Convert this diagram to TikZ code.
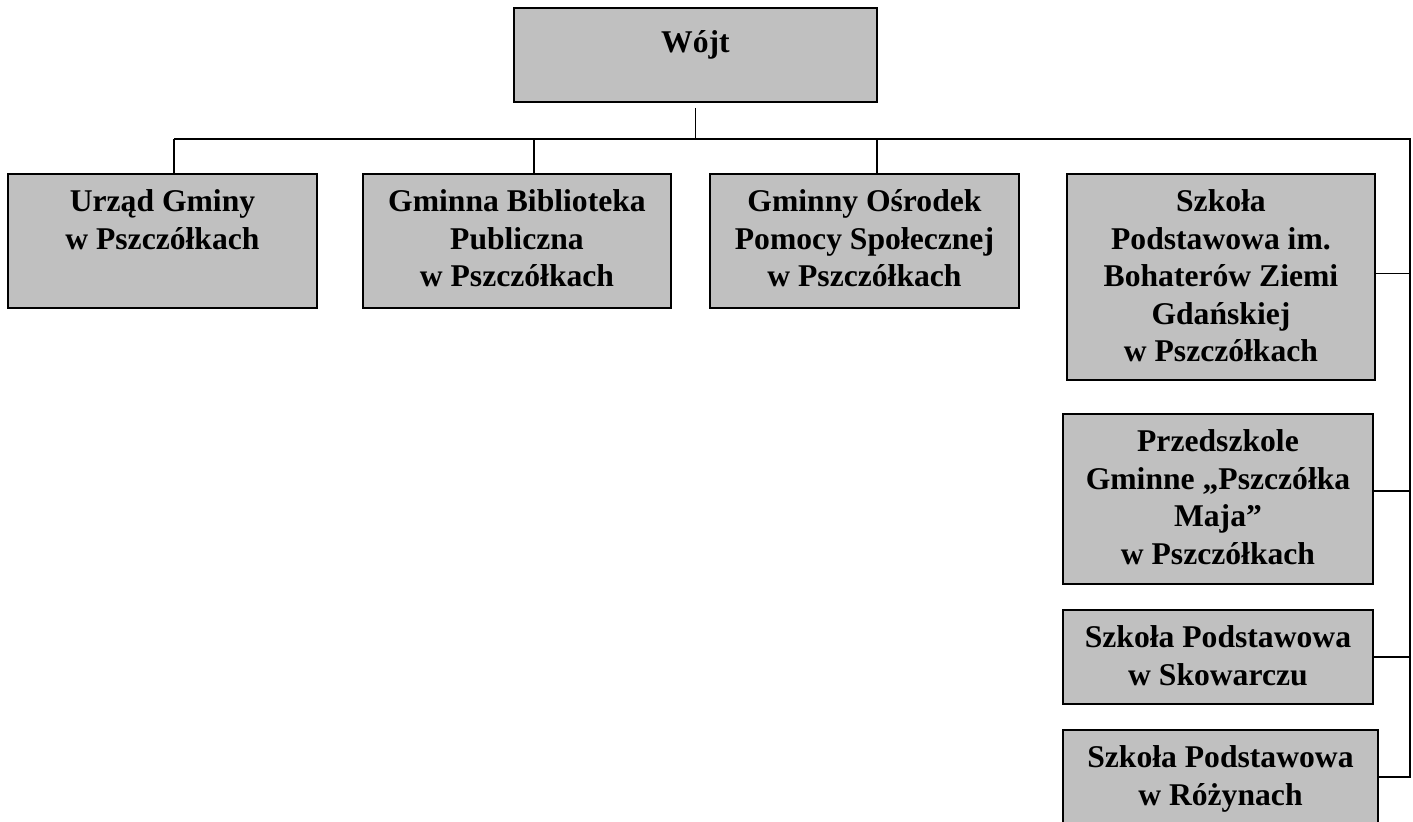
\documentclass[tikz,border=0pt]{standalone}
\usepackage{fontspec}
\setmainfont{Liberation Serif}
\definecolor{unitgrey}{RGB}{192,192,192}

\begin{document}
\begin{tikzpicture}[
   unit/.style={draw, line width=1.1pt, fill=unitgrey, anchor=north west, inner sep=0pt},
   unittext/.style={anchor=north, align=center, inner sep=0pt,
      font=\bfseries\fontsize{18pt}{21.3pt}\selectfont,
      execute at begin node={\rule{0pt}{17pt}}},
   link/.style={line width=0.6pt}]
   \useasboundingbox (0,0) rectangle (28.26,-16.42);

   % boxes
   \node[unit, minimum width=7.26cm, minimum height=1.88cm] (wojt) at (10.26,-0.14) {};
   \node[unit, minimum width=6.18cm, minimum height=2.68cm] (urzad) at (0.14,-3.46) {};
   \node[unit, minimum width=6.16cm, minimum height=2.68cm] (bibl) at (7.24,-3.46) {};
   \node[unit, minimum width=6.18cm, minimum height=2.68cm] (gops) at (14.18,-3.46) {};
   \node[unit, minimum width=6.16cm, minimum height=4.12cm] (szkola) at (21.32,-3.46) {};
   \node[unit, minimum width=6.20cm, minimum height=3.40cm] (przed) at (21.24,-8.26) {};
   \node[unit, minimum width=6.20cm, minimum height=1.88cm] (skow) at (21.24,-12.18) {};
   \node[unit, minimum width=6.30cm, minimum height=2.00cm] (rozyn) at (21.24,-14.58) {};

   % texts
   \node[unittext] (wojt-t) at ([yshift=-0.3cm]wojt.north) {Wójt};
   \node[unittext] (urzad-t) at ([yshift=-0.33cm]urzad.north) {Urząd Gminy\\w Pszczółkach};
   \node[unittext] (bibl-t) at ([yshift=-0.33cm]bibl.north) {Gminna Biblioteka\\Publiczna\\w Pszczółkach};
   \node[unittext] (gops-t) at ([yshift=-0.33cm]gops.north) {Gminny Ośrodek\\Pomocy Społecznej\\w Pszczółkach};
   \node[unittext] (szkola-t) at ([yshift=-0.33cm]szkola.north) {Szkoła\\Podstawowa im.\\Bohaterów Ziemi\\Gdańskiej\\w Pszczółkach};
   \node[unittext] (przed-t) at ([yshift=-0.33cm]przed.north) {Przedszkole\\Gminne „Pszczółka\\Maja”\\w Pszczółkach};
   \node[unittext] (skow-t) at ([yshift=-0.33cm]skow.north) {Szkoła Podstawowa\\w Skowarczu};
   \node[unittext] (rozyn-t) at ([yshift=-0.33cm]rozyn.north) {Szkoła Podstawowa\\w Różynach};

   % connectors
   \coordinate (j1) at (3.48,-2.78);
   \coordinate (j2) at (10.68,-2.78);
   \coordinate (j3) at (17.54,-2.78);
   \coordinate (corner) at (28.2,-2.78);
   \coordinate (szkola-e) at ([yshift=0.06cm]szkola.east);
   \coordinate (przed-e) at ([yshift=0.16cm]przed.east);
   \coordinate (rozyn-e) at ([yshift=0.06cm]rozyn.east);

   \draw[link] ([yshift=-0.1cm]wojt.south) -- (wojt.south |- j1);
   \draw[link] (j1) -- (corner) -- (corner |- rozyn-e) -- (rozyn-e);
   \draw[link] (j1) -- (j1 |- urzad.north);
   \draw[link] (j2) -- (j2 |- bibl.north);
   \draw[link] (j3) -- (j3 |- gops.north);
   \draw[link] (szkola-e) -- (corner |- szkola-e);
   \draw[link] (przed-e) -- (corner |- przed-e);
   \draw[link] (skow.east) -- (corner |- skow.east);
\end{tikzpicture}
\end{document}
